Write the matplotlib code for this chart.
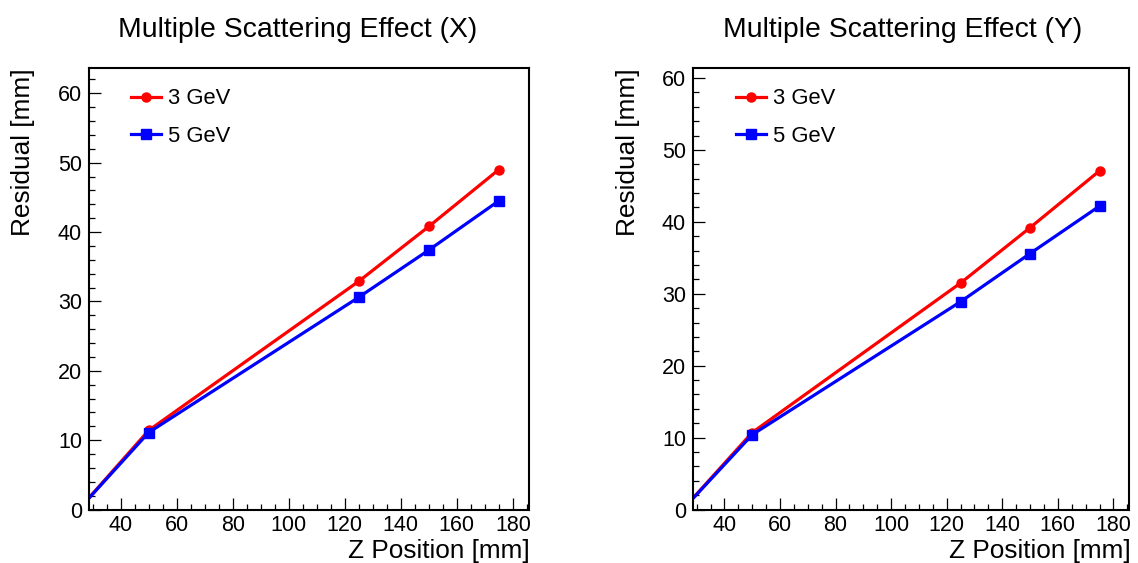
import matplotlib.pyplot as plt
from matplotlib.ticker import MultipleLocator

plt.rcParams['font.family'] = ['Liberation Sans', 'DejaVu Sans']

z_pos = [25, 50, 125, 150, 175]
res_x_3gev = [0.0, 11.4, 32.9, 40.8, 49.0]
res_x_5gev = [0.0, 11.1, 30.6, 37.4, 44.5]
res_y_3gev = [0.0, 10.7, 31.5, 39.2, 47.1]
res_y_5gev = [0.0, 10.4, 28.9, 35.6, 42.2]
labels = ['3 GeV', '5 GeV']
titles = ['Multiple Scattering Effect (X)', 'Multiple Scattering Effect (Y)']

fig = plt.figure(figsize=(11.38, 5.63), dpi=100)
ax1 = fig.add_axes([89 / 1138, 53.5 / 563, 439.5 / 1138, 441.5 / 563])
ax2 = fig.add_axes([693 / 1138, 53.5 / 563, 436 / 1138, 441.5 / 563])


def draw_panel(ax, y3, y5, ytop, title, title_x, ylab_x, leg_x):
    ax.plot(z_pos, y3, color='red', lw=2.3, marker='o', ms=6.5, label=labels[0])
    ax.plot(z_pos, y5, color='blue', lw=2.3, marker='s', ms=6.5, label=labels[1])
    ax.set_xlim(28.7, 185.6)
    ax.set_ylim(0, ytop)
    ax.xaxis.set_major_locator(MultipleLocator(20))
    ax.xaxis.set_minor_locator(MultipleLocator(5))
    ax.yaxis.set_major_locator(MultipleLocator(10))
    ax.yaxis.set_minor_locator(MultipleLocator(2))
    ax.tick_params(which='both', direction='in', top=False, right=False,
                   labelsize=15.5, width=0.9)
    ax.tick_params(axis='y', pad=5)
    ax.tick_params(axis='x', pad=4)
    ax.tick_params(which='major', length=8.6)
    ax.tick_params(which='minor', length=4.3)
    for s in ax.spines.values():
        s.set_linewidth(1.5)
    ax.set_xlabel('Z Position [mm]', fontsize=18.8, ha='right', va='top')
    ax.xaxis.set_label_coords(1.003, -0.066)
    ax.set_ylabel('Residual [mm]', fontsize=18.9, ha='right', va='bottom')
    ax.yaxis.set_label_coords(ylab_x, 1.0)
    ax.legend(loc='upper left', bbox_to_anchor=(leg_x, 0.974), frameon=False,
              fontsize=15.8, handlelength=1.37, handletextpad=0.32,
              labelspacing=0.77, borderaxespad=0)
    fig.text(title_x / 1138, 1 - 30 / 563, title, fontsize=20.4,
             ha='center', va='center')


draw_panel(ax1, res_x_3gev, res_x_5gev, 63.65, titles[0], 298, -0.123, 0.075)
draw_panel(ax2, res_y_3gev, res_y_5gev, 61.4, titles[1], 903, -0.1216, 0.078)

fig.savefig('out.png', dpi=100)
